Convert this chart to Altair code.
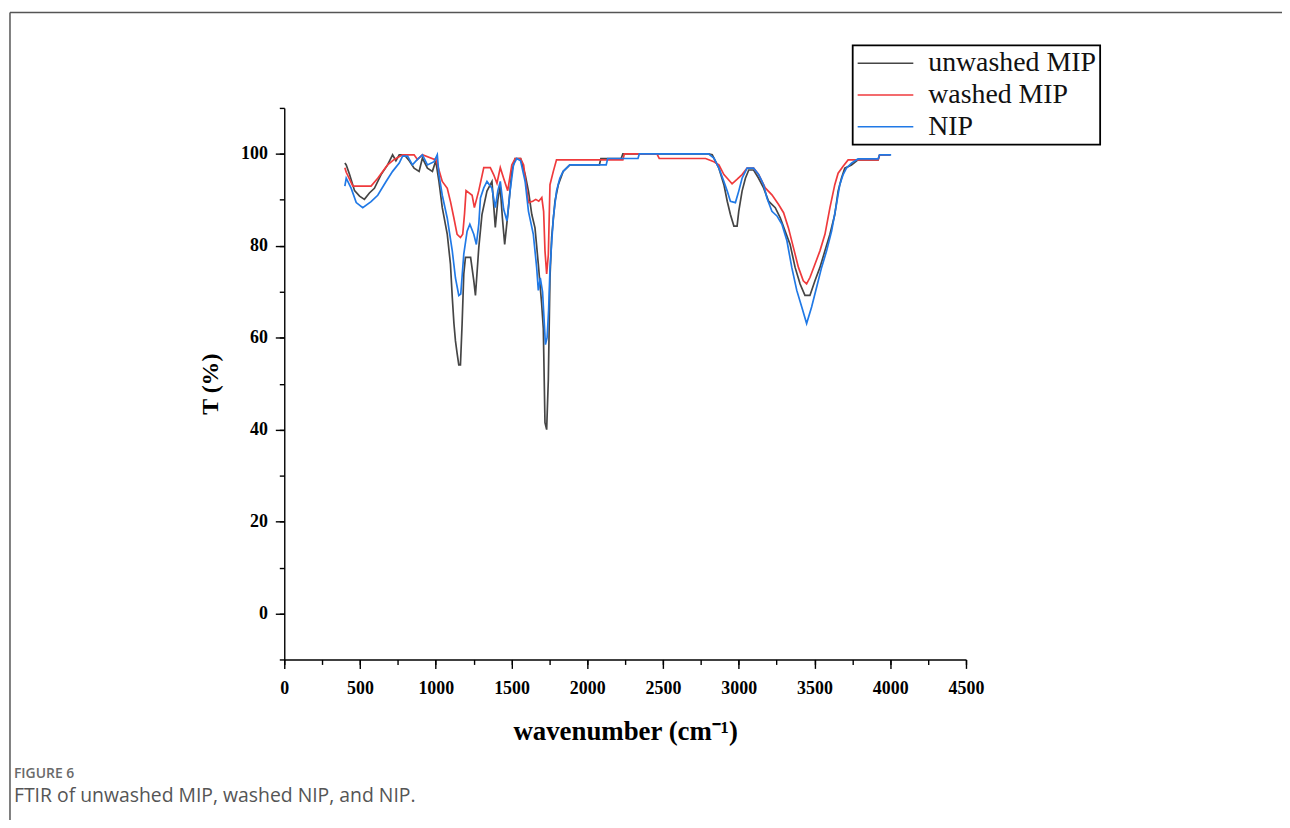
import altair as alt
import pandas as pd

# ---------------- data ----------------
series_names = ["unwashed MIP", "washed MIP", "NIP"]
series_colors = ["#454545", "#ef3a3c", "#2079e6"]

wn_unwashed = [400, 409, 431, 464, 497, 529, 562, 595, 639, 682, 715, 737, 759, 792, 825, 857, 890, 912, 945, 978,
               1000, 1021, 1043, 1076, 1097, 1109, 1120, 1130, 1141, 1152, 1163, 1174, 1185, 1196, 1230, 1251, 1262,
               1284, 1305, 1338, 1371, 1393, 1410, 1425, 1440, 1455, 1480, 1502, 1524, 1560, 1590, 1612, 1634, 1655,
               1666, 1677, 1699, 1710, 1721, 1732, 1743, 1754, 1765, 1787, 1809, 1841, 1885, 2080, 2090, 2224, 2235,
               2800, 2825, 2869, 2902, 2924, 2945, 2968, 2989, 3000, 3022, 3044, 3066, 3098, 3131, 3164, 3197, 3241,
               3274, 3306, 3339, 3372, 3405, 3437, 3470, 3503, 3536, 3569, 3602, 3634, 3656, 3678, 3700, 3744, 3787,
               3920, 3930, 4000]
t_unwashed = [98, 97.6, 95.5, 92, 90.8, 90.1, 91.5, 92.5, 95.5, 97.6, 99.8, 98.5, 99.8, 99.8, 98.5, 96.9, 96.2, 99.1,
              96.9, 96.2, 98.5, 94, 88.3, 82.5, 76, 68.8, 63.1, 59.3, 56.6, 54.1, 54.1, 63.1, 73.9, 77.5, 77.5, 72.4,
              69.2, 79.6, 86.8, 91.9, 94, 84, 90, 93, 86, 80.3, 88.3, 96.2, 99, 99, 95.5, 91.9, 86.8, 83.9, 80, 76,
              67.4, 62, 41.5, 40, 50.8, 73.1, 81.8, 89.7, 93.3, 96.2, 97.6, 97.6, 99, 99, 100, 100, 99.8, 96.9, 93.3,
              89.7, 86.8, 84.3, 84.3, 87.5, 91.9, 94.7, 96.5, 96.5, 94.7, 92.6, 89.7, 88.3, 86.1, 83.2, 80.3, 75.3,
              71.7, 69.2, 69.2, 72.4, 75.3, 78.9, 82.5, 86.8, 91.9, 94.7, 96.9, 97.6, 98.7, 98.7, 99.8, 99.8]

wn_washed = [400, 409, 453, 573, 617, 682, 726, 781, 857, 879, 912, 989, 1000, 1021, 1043, 1076, 1098, 1120, 1141,
             1163, 1178, 1190, 1200, 1240, 1255, 1284, 1317, 1360, 1382, 1404, 1426, 1448, 1475, 1502, 1524, 1560,
             1580, 1595, 1612, 1640, 1660, 1680, 1700, 1712, 1721, 1732, 1743, 1754, 1776, 1797, 2235, 2245, 2460,
             2475, 2781, 2836, 2869, 2902, 2924, 2956, 2990, 3022, 3055, 3098, 3131, 3175, 3219, 3263, 3296, 3328,
             3361, 3394, 3426, 3448, 3470, 3503, 3536, 3569, 3602, 3634, 3656, 3689, 3722, 3920, 3930, 4000]
t_washed = [97, 96, 93, 93, 94.7, 97.6, 98.8, 99.8, 99.8, 98.8, 99.8, 98.8, 99, 96.5, 94, 92.5, 89.5, 86, 82.5, 81.8,
            82.5, 87, 92, 91, 88.3, 92, 97, 97, 95.5, 93.6, 97, 94.7, 92, 97.6, 99, 99, 97.6, 93.6, 89.4, 89.7, 90.1,
            89.7, 90.5, 87.5, 78.9, 73.9, 78, 93.3, 96.2, 98.7, 98.7, 100, 100, 99, 99, 98.3, 97.6, 95.5, 94.7, 93.5,
            94.5, 95.5, 96.9, 96.9, 95.5, 92.6, 91.1, 89, 87.2, 83.9, 79.6, 75.3, 72.4, 71.7, 73.1, 76, 78.9, 82.5,
            88.3, 93.3, 95.8, 97.3, 98.7, 98.7, 99.8, 99.8]

wn_nip = [400, 409, 442, 475, 518, 573, 617, 672, 715, 759, 781, 814, 846, 879, 912, 945, 989, 1010, 1021, 1043,
          1076, 1109, 1130, 1152, 1165, 1185, 1207, 1225, 1251, 1268, 1284, 1295, 1317, 1338, 1371, 1393, 1410, 1426,
          1448, 1470, 1491, 1513, 1535, 1560, 1590, 1612, 1644, 1666, 1677, 1690, 1705, 1715, 1724, 1735, 1745, 1754,
          1776, 1797, 1819, 1841, 1885, 2125, 2135, 2335, 2344, 2800, 2836, 2869, 2902, 2924, 2945, 2978, 3000, 3022,
          3055, 3098, 3131, 3164, 3186, 3219, 3252, 3285, 3318, 3350, 3383, 3416, 3448, 3481, 3514, 3547, 3580, 3613,
          3645, 3667, 3689, 3711, 3744, 3787, 3920, 3930, 4006]
t_nip = [93, 94.7, 92.5, 89.4, 88.3, 89.6, 91, 94, 96.2, 98, 99.5, 99.5, 97.6, 98.8, 99.8, 97.6, 98.3, 99.8, 95.5, 91,
         86, 78.9, 73, 69.2, 69.5, 78.2, 83.2, 84.7, 82.5, 80.3, 84.7, 90.4, 92.6, 94, 92.5, 88.3, 92, 94, 88, 85.4,
         92, 97.6, 99, 98.5, 94, 87.5, 82.5, 75.3, 70.3, 73, 70, 64, 58.5, 60, 66, 75, 86.1, 91.9, 94.7, 96.2, 97.6,
         97.6, 99, 99, 100, 100, 99.1, 96.9, 94, 91.9, 89.7, 89.4, 91.9, 94.7, 96.9, 96.9, 95.5, 93.3, 90.4, 87.5,
         86.5, 84.7, 81.1, 75.3, 70.3, 66.7, 63.1, 66.7, 71, 75.3, 78.9, 83.2, 89, 93.3, 95.5, 96.9, 98, 98.9, 98.9,
         99.8, 99.8]

x_major = [0, 500, 1000, 1500, 2000, 2500, 3000, 3500, 4000, 4500]
x_minor = [0, 250, 500, 750, 1000, 1250, 1500, 1750, 2000, 2250, 2500, 2750, 3000, 3250, 3500, 3750, 4000, 4250, 4500]
y_major = [0, 20, 40, 60, 80, 100]
y_minor = [-10, 0, 10, 20, 30, 40, 50, 60, 70, 80, 90, 100, 110]

caption_head = ["FIGURE 6"]
caption_text = ["FTIR of unwashed MIP, washed NIP, and NIP."]

# ---------------- table ----------------
rows = []
for name, xs, ys in [(series_names[0], wn_unwashed, t_unwashed),
                     (series_names[1], wn_washed, t_washed),
                     (series_names[2], wn_nip, t_nip)]:
    assert len(xs) == len(ys), name
    for x, y in zip(xs, ys):
        rows.append({"series": name, "wn": x, "T": y})
df = pd.DataFrame(rows)

# ---------------- chart ----------------
W, H = 686, 555
xscale = alt.Scale(domain=[0, 4500], nice=False, zero=False)
yscale = alt.Scale(domain=[-10, 110], nice=False, zero=False)
FONT = "Liberation Serif"

x_axis_major = alt.Axis(orient="bottom", values=x_major, format="d", grid=False,
                        domainColor="black", domainWidth=1.4, tickColor="black", tickWidth=1.4, tickSize=9,
                        labelFont=FONT, labelFontSize=18, labelFontWeight="bold", labelColor="black",
                        labelPadding=11, labelFlush=False,
                        title="wavenumber (cm⁻¹)", titleFont=FONT, titleFontSize=27, titleFontWeight="bold",
                        titleColor="black", titlePadding=22)
y_axis_major = alt.Axis(orient="left", values=y_major, format="d", grid=False,
                        domainColor="black", domainWidth=1.4, tickColor="black", tickWidth=1.4, tickSize=9,
                        labelFont=FONT, labelFontSize=18, labelFontWeight="bold", labelColor="black",
                        labelPadding=8,
                        title="T (%)", titleFont=FONT, titleFontSize=24, titleFontWeight="bold",
                        titleColor="black", titlePadding=18)
x_axis_minor = alt.Axis(orient="bottom", values=x_minor, labels=False, domain=False, grid=False,
                        tickColor="black", tickWidth=1.4, tickSize=5, title=None)
y_axis_minor = alt.Axis(orient="left", values=y_minor, labels=False, domain=False, grid=False,
                        tickColor="black", tickWidth=1.4, tickSize=5, title=None)

minor = alt.Chart(df).mark_line(opacity=0).encode(
    x=alt.X("wn:Q", scale=xscale, axis=x_axis_minor),
    y=alt.Y("T:Q", scale=yscale, axis=y_axis_minor),
    detail="series:N",
)

lines = alt.Chart(df).mark_line(strokeWidth=1.7).encode(
    x=alt.X("wn:Q", scale=xscale, axis=x_axis_major),
    y=alt.Y("T:Q", scale=yscale, axis=y_axis_major),
    color=alt.Color("series:N", sort=series_names,
                    scale=alt.Scale(domain=series_names, range=series_colors),
                    legend=alt.Legend(title=None, orient="none", legendX=572, legendY=-63,
                                      symbolType="stroke", symbolSize=3136, symbolStrokeWidth=1.6,
                                      labelFont=FONT, labelFontSize=28, labelColor="#111",
                                      labelOffset=14, clipHeight=28, rowPadding=4, padding=4,
                                      strokeColor="black", labelLimit=400)),
)

one = pd.DataFrame({"k": [0]})
frame_left = alt.Chart(one).mark_rule(color="#555", strokeWidth=1.5).encode(
    x=alt.value(-276), y=alt.value(-96), y2=alt.value(720))
frame_top = alt.Chart(one).mark_rule(color="#555", strokeWidth=1.5).encode(
    x=alt.value(-276), x2=alt.value(1010), y=alt.value(-96))

cap1 = alt.Chart(pd.DataFrame({"t": caption_head})).mark_text(
    align="left", baseline="middle", font="Open Sans", fontSize=14, fontWeight=600, color="#6a6a6a"
).encode(text="t:N", x=alt.value(-272), y=alt.value(670))
cap2 = alt.Chart(pd.DataFrame({"t": caption_text})).mark_text(
    align="left", baseline="middle", font="Open Sans", fontSize=19.5, color="#555"
).encode(text="t:N", x=alt.value(-272), y=alt.value(692))

chart = alt.layer(minor, lines, frame_left, frame_top, cap1, cap2).resolve_axis(
    x="independent", y="independent"
).properties(
    width=W, height=H,
    padding={"left": 278, "top": 98, "right": 318, "bottom": 159},
    autosize=alt.AutoSizeParams(type="none"),
).configure_view(stroke=None).configure_legend(strokeWidth=1.8)

chart.save("out.html", embed_options={"renderer": "svg", "actions": False})
